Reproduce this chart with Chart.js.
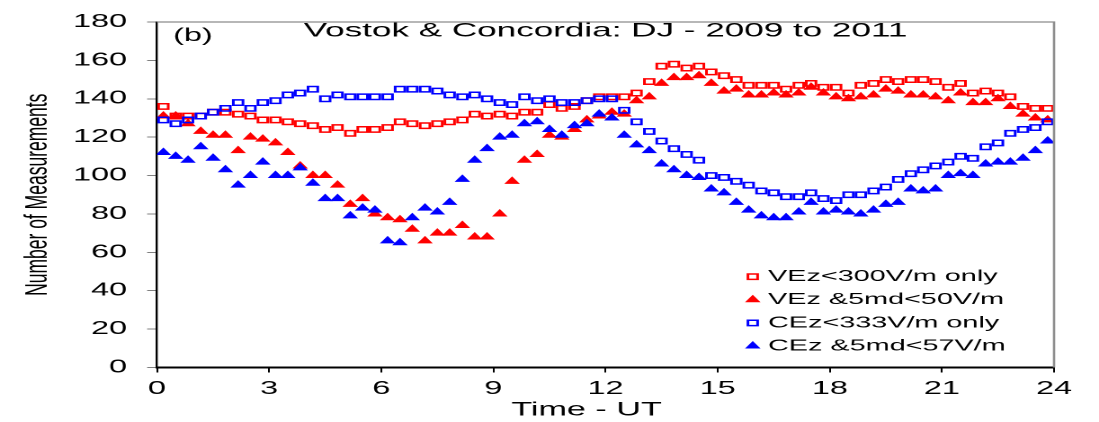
<!DOCTYPE html>
<html>
<head>
<meta charset="utf-8">
<script src="https://cdn.jsdelivr.net/npm/chart.js@4.4.1/dist/chart.umd.min.js"></script>
<style>
  html, body { margin: 0; padding: 0; background: #fff; overflow: hidden; }
  /* the original figure is a stretched export: draw narrow, then stretch in x */
  #wrap { width: 611px; height: 422px; transform: scaleX(1.7987); transform-origin: 0 0; }
</style>
</head>
<body>
<div id="wrap"><canvas id="chart" width="611" height="422"></canvas></div>
<script>
const FONT = "'Liberation Sans', Arial, sans-serif";

// 20-minute bins, centre of each bin (UT hours)
const hours = [
  0.17, 0.5, 0.83, 1.17, 1.5, 1.83, 2.17, 2.5, 2.83, 3.17, 3.5, 3.83,
  4.17, 4.5, 4.83, 5.17, 5.5, 5.83, 6.17, 6.5, 6.83, 7.17, 7.5, 7.83,
  8.17, 8.5, 8.83, 9.17, 9.5, 9.83, 10.17, 10.5, 10.83, 11.17, 11.5, 11.83,
  12.17, 12.5, 12.83, 13.17, 13.5, 13.83, 14.17, 14.5, 14.83, 15.17, 15.5, 15.83,
  16.17, 16.5, 16.83, 17.17, 17.5, 17.83, 18.17, 18.5, 18.83, 19.17, 19.5, 19.83,
  20.17, 20.5, 20.83, 21.17, 21.5, 21.83, 22.17, 22.5, 22.83, 23.17, 23.5, 23.83
];
const xTicks = [0, 3, 6, 9, 12, 15, 18, 21, 24];
const yTicks = [0, 20, 40, 60, 80, 100, 120, 140, 160, 180];

const vezOnly = [
  136, 131, 131, 131, 133, 133, 132, 131, 129, 129, 128, 127,
  126, 124, 125, 122, 124, 124, 125, 128, 127, 126, 127, 128,
  129, 132, 131, 132, 131, 133, 133, 137, 135, 136, 139, 141,
  141, 141, 143, 149, 157, 158, 156, 157, 154, 152, 150, 147,
  147, 147, 145, 147, 148, 146, 146, 143, 147, 148, 150, 149,
  150, 150, 149, 146, 148, 143, 144, 143, 141, 136, 135, 135
];
const vez5md = [
  131, 131, 127, 123, 121, 121, 113, 120, 119, 117, 112, 105,
  100, 100, 95, 85, 88, 80, 78, 77, 72, 66, 70, 70,
  74, 68, 68, 80, 97, 108, 111, 121, 120, 124, 129, 131,
  133, 132, 139, 141, 148, 151, 151, 152, 148, 144, 145, 142,
  142, 143, 142, 143, 146, 143, 141, 140, 141, 142, 145, 144,
  142, 142, 141, 139, 143, 138, 138, 140, 136, 132, 130, 129
];
const cezOnly = [
  129, 127, 129, 131, 133, 135, 138, 135, 138, 139, 142, 143,
  145, 140, 142, 141, 141, 141, 141, 145, 145, 145, 144, 142,
  141, 142, 140, 138, 137, 141, 139, 140, 138, 138, 139, 140,
  140, 134, 128, 123, 118, 114, 111, 108, 100, 99, 97, 95,
  92, 91, 89, 89, 91, 88, 87, 90, 90, 92, 94, 98,
  101, 103, 105, 107, 110, 109, 115, 117, 122, 124, 125, 128
];
const cez5md = [
  112, 110, 108, 115, 109, 103, 95, 100, 107, 100, 100, 104,
  96, 88, 88, 79, 83, 82, 66, 65, 78, 83, 81, 86,
  98, 108, 114, 120, 121, 127, 128, 124, 121, 126, 127, 132,
  130, 121, 116, 113, 106, 103, 100, 99, 93, 91, 86, 82,
  79, 78, 78, 81, 86, 81, 82, 81, 80, 82, 85, 86,
  93, 92, 93, 100, 101, 100, 106, 107, 107, 109, 113, 118
];

function series(label, values, color, shape, order) {
  const open = shape === 'rect';
  return {
    label: label,
    data: values.map((v, i) => ({ x: hours[i], y: v })),
    showLine: false,
    pointStyle: shape,
    pointRadius: open ? 3.8 : 4,
    pointBorderWidth: open ? 1.5 : 1,
    pointBorderColor: color,
    pointBackgroundColor: open ? 'rgba(0,0,0,0)' : color,
    borderColor: color,
    backgroundColor: color,
    order: order // blue triangles end up on top, like the original
  };
}

const decor = {
  id: 'decor',
  afterDraw(chart) {
    const { ctx, chartArea: a } = chart;
    ctx.save();
    // grey frame top + right
    ctx.strokeStyle = '#8c8c8c';
    ctx.lineWidth = 1.3;
    ctx.beginPath();
    ctx.moveTo(a.left, a.top);
    ctx.lineTo(a.right, a.top);
    ctx.lineTo(a.right, a.bottom);
    ctx.stroke();

    ctx.fillStyle = '#000';
    ctx.textBaseline = 'alphabetic';
    ctx.font = '19.5px ' + FONT;
    ctx.textAlign = 'center';
    ctx.fillText('Vostok & Concordia: DJ - 2009 to 2011', (a.left + a.right) / 2, 36.7);
    ctx.font = '18px ' + FONT;
    ctx.textAlign = 'left';
    ctx.fillText('(b)', 96.2, 41.2);

    // legend inside the plot, lower right
    ctx.font = '16px ' + FONT;
    ctx.textBaseline = 'middle';
    chart.data.datasets.forEach((ds, i) => {
      const y = 276.7 + i * 23.1;
      ctx.fillStyle = ds.pointBackgroundColor;
      ctx.strokeStyle = ds.pointBorderColor;
      ctx.lineWidth = ds.pointBorderWidth;
      Chart.helpers.drawPoint(ctx, {
        pointStyle: ds.pointStyle, radius: ds.pointRadius,
        borderWidth: ds.pointBorderWidth, rotation: 0
      }, 418.5, y);
      ctx.fillStyle = '#000';
      ctx.fillText(ds.label, 427, y);
    });
    ctx.restore();
  }
};

Chart.defaults.color = '#000';

new Chart(document.getElementById('chart').getContext('2d'), {
  type: 'scatter',
  data: {
    datasets: [
      series('VEz<300V/m only', vezOnly, '#ff0000', 'rect', 4),
      series('VEz &5md<50V/m', vez5md, '#ff0000', 'triangle', 3),
      series('CEz<333V/m only', cezOnly, '#0000ff', 'rect', 2),
      series('CEz &5md<57V/m', cez5md, '#0000ff', 'triangle', 1)
    ]
  },
  options: {
    responsive: false,
    devicePixelRatio: 2,
    animation: false,
    events: [],
    layout: { padding: { top: 15.5, right: 25, bottom: 0, left: 0 } },
    plugins: { legend: { display: false }, tooltip: { enabled: false } },
    scales: {
      x: {
        type: 'linear', min: 0, max: 24,
        afterBuildTicks: s => { s.ticks = xTicks.map(v => ({ value: v })); },
        afterFit: s => { s.height = 54.5; },
        ticks: { font: { family: FONT, size: 18 }, color: '#000', padding: 5.5, maxRotation: 0, autoSkip: false },
        grid: { drawOnChartArea: false, drawTicks: true, tickLength: 5, color: '#000' },
        border: { color: '#000', width: 2 },
        // trailing spaces nudge the title a bit left of centre, as in the original
        title: { display: true, text: 'Time - UT    ', color: '#000', font: { family: FONT, size: 19 }, padding: { top: 0, bottom: 0.3 } }
      },
      y: {
        min: 0, max: 180,
        afterBuildTicks: s => { s.ticks = yTicks.map(v => ({ value: v })); },
        afterFit: s => { s.width = 87.3; },
        ticks: { font: { family: FONT, size: 18 }, color: '#000', padding: 11.2, autoSkip: false },
        grid: { drawOnChartArea: false, drawTicks: true, tickLength: 5.5, color: '#808080' },
        border: { color: '#000', width: 1.2 },
        title: {
          display: true, text: 'Number of Measurements', color: '#000',
          font: { family: FONT, size: 17.5 },
          padding: { top: 10.5, bottom: 0 }
        }
      }
    }
  },
  plugins: [decor]
});
</script>
</body>
</html>
